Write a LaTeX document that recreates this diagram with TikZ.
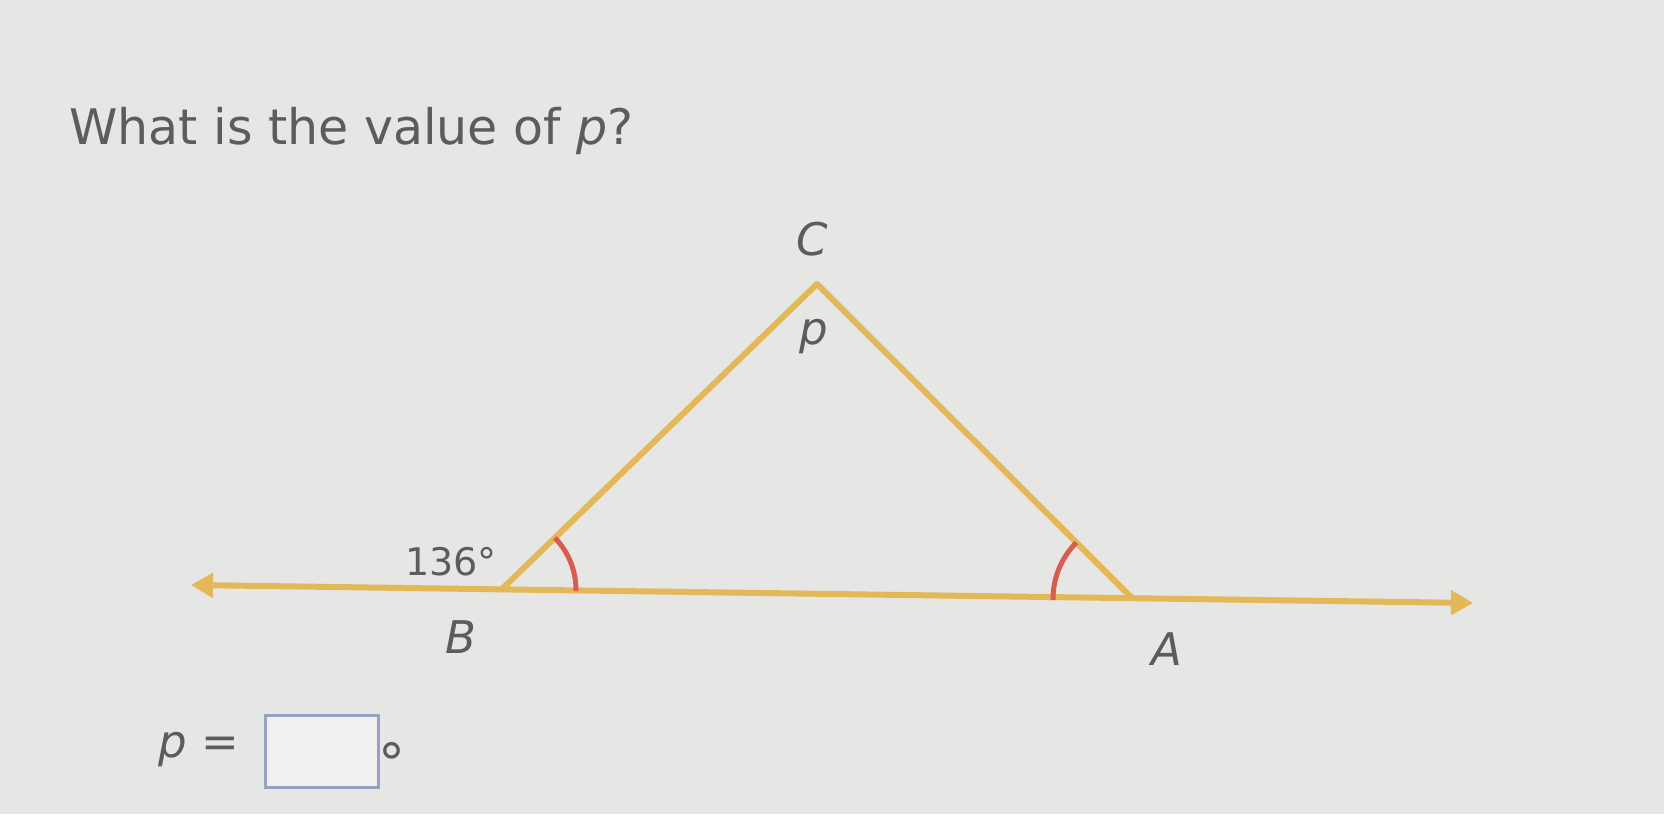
\documentclass[tikz,border=0pt]{standalone}
\usepackage{fontspec}
\setmainfont{DejaVu Sans}
\usepackage{tikz}
\usetikzlibrary{arrows.meta}

\definecolor{paper}{RGB}{230,230,228}
\definecolor{gold}{RGB}{226,184,88}
\definecolor{markred}{RGB}{216,92,80}
\definecolor{inkgray}{RGB}{92,92,92}
\definecolor{boxblue}{RGB}{150,162,192}

\tikzset{
  side/.style={draw=gold, line width=6pt, line join=round},
  anglemark/.style={draw=markred, line width=5pt},
  vlabel/.style={text=inkgray, font=\fontsize{45}{54}\selectfont\itshape, inner sep=0pt},
}

\begin{document}
\begin{tikzpicture}[x=1pt,y=1pt]
		% page
		\fill[paper] (0,0) rectangle (1664,814);
		\useasboundingbox (0,0) rectangle (1664,814);
		% question
		\node[anchor=base west, text=inkgray, font=\fontsize{49}{58}\selectfont, inner sep=0pt] (question) at (69,669) {What is the value of \textit{p}?};
		% points of the figure
		\coordinate (C) at (817,530);
		\coordinate (B) at (501,224);
		\coordinate (A) at (1133,215);
		\coordinate (L) at (191,229);
		\coordinate (R) at (1473,211);
		% straight line through B and A
		\draw[side, {Triangle[length=22pt,width=24pt]}-{Triangle[length=22pt,width=24pt]}] (L) -- (R);
		% triangle
		\draw[side] (B) -- (C) -- (A);
		% angle marks
		\draw[anglemark] ([shift={(-0.8:75)}]B) arc[start angle=-0.8, end angle=44.1, radius=75];
		\draw[anglemark] ([shift={(135.1:80)}]A) arc[start angle=135.1, end angle=180.8, radius=80];
		% labels
		\node[vlabel] (labC) at (812,575) {C};
		\node[vlabel] (labp) at (814,477) {p};
		\node[vlabel] (labB) at (461,177) {B};
		\node[vlabel] (labA) at (1167,165) {A};
		\node[text=inkgray, font=\fontsize{38}{46}\selectfont, inner sep=0pt] (ext) at (451,252) {136°};
		% answer line
		\node[anchor=base west, text=inkgray, font=\fontsize{45}{54}\selectfont, inner sep=0pt] (ans) at (158,57) {\textit{p} =};
		\node[draw=boxblue, line width=3pt, fill=paper!60!white, minimum width=113pt, minimum height=72pt, inner sep=0pt] (answerbox) at (321.5,63) {};
		\node[anchor=base west, text=inkgray, font=\fontsize{54}{64}\selectfont, inner sep=0pt] (deg) at (378,32) {°};
	\end{tikzpicture}
\end{document}
